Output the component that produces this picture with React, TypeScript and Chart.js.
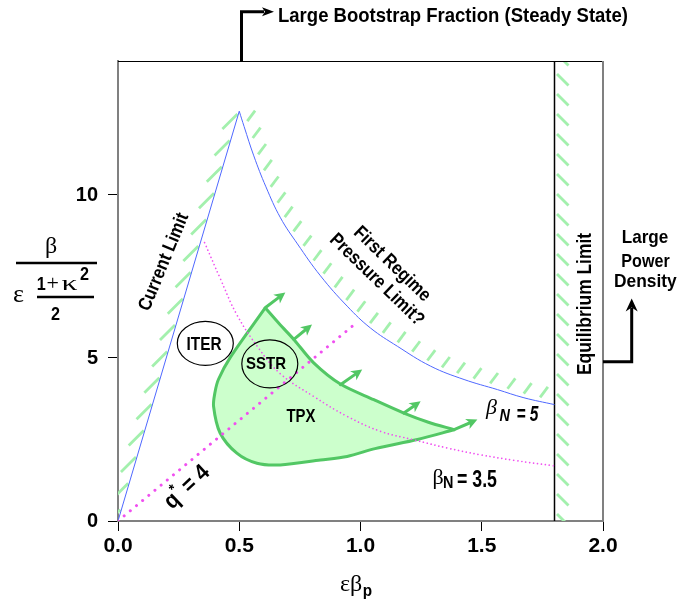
import React, { useEffect, useRef } from "react";
import { Chart, registerables } from "chart.js";
Chart.register(...registerables);

// ---------- data ----------
const X_TICKS = [0, 0.5, 1.0, 1.5, 2.0];
const Y_TICKS = [0, 5, 10];
const X_MIN = 0;
const X_MAX = 2;
const Y_MIN = 0;
const Y_MAX = 14.11;

const currentLimitX = [0, 0.5];
const currentLimitY = [0, 12.57];

const pressureLimitX = [0.5, 0.52, 0.56, 0.61, 0.67, 0.74, 0.835, 0.945, 1.041, 1.152, 1.289, 1.427, 1.565, 1.674, 1.8];
const pressureLimitY = [12.57, 12.1, 11.2, 10.25, 9.3, 8.5, 7.52, 6.59, 5.92, 5.36, 4.75, 4.34, 4.03, 3.78, 3.57];

const betaN35X = [0.357, 0.421, 0.49, 0.58, 0.669, 0.807, 0.945, 1.083, 1.22, 1.357, 1.496, 1.634, 1.8];
const betaN35Y = [8.54, 7.45, 6.33, 5.3, 4.52, 3.82, 3.21, 2.75, 2.49, 2.24, 2.03, 1.86, 1.69];

const qStarX = [0, 0.98];
const qStarY = [0, 6.06];

const equilibriumX = [1.8, 1.8];
const equilibriumY = [0, 14.11];

const tpxX = [0.607, 0.607, 0.665, 0.725, 0.807, 0.917, 1.055, 1.179, 1.28, 1.386, 1.386, 1.235, 1.06, 0.945, 0.835, 0.669, 0.573, 0.49, 0.421, 0.394, 0.4, 0.414, 0.463, 0.607];
const tpxY = [6.54, 6.54, 6.05, 5.57, 4.85, 4.2, 3.72, 3.31, 3.03, 2.8, 2.8, 2.5, 2.22, 1.98, 1.87, 1.72, 1.77, 2.08, 2.7, 3.52, 3.95, 4.34, 5.02, 6.54];

const arrowFromX = [0.607, 0.725, 0.917, 1.179, 1.386];
const arrowFromY = [6.54, 5.57, 4.18, 3.31, 2.8];
const arrowToX = [0.69, 0.8, 1.007, 1.248, 1.482];
const arrowToY = [7.01, 6.03, 4.65, 3.67, 3.11];

const ellipseNames = ["ITER", "SSTR"];
const ellipseX = [0.36, 0.626];
const ellipseY = [5.45, 4.82];

// ---------- style ----------
const SANS = "'Liberation Sans', Arial, sans-serif";
const SERIF = "'Liberation Serif', 'Times New Roman', serif";
const BLUE = "#4f68ff";
const MAGENTA = "#f050f0";
const GREEN = "#52c764";
const GREEN_FILL = "#ccffcc";
const HATCH = "#a3f0ad";

const pts = (xs: number[], ys: number[]) => xs.map((x, i) => ({ x, y: ys[i] }));

function fontAvailable(name: string) {
  const c = document.createElement("canvas").getContext("2d")!;
  const s = "abcdefghijklmnopqrstuvwxyzABCDEFGHIJ0123456789";
  c.font = "30px monospace";
  const a = c.measureText(s).width;
  c.font = `30px '${name}', monospace`;
  const b = c.measureText(s).width;
  return Math.abs(a - b) > 0.5;
}

type TOpt = {
  size: number;
  weight?: string;
  style?: string;
  family?: string;
  align?: CanvasTextAlign;
  baseline?: CanvasTextBaseline;
  rot?: number;
  width?: number;
  sx?: number;
};

function txt(ctx: CanvasRenderingContext2D, s: string, x: number, y: number, o: TOpt) {
  ctx.save();
  ctx.translate(x, y);
  if (o.rot) ctx.rotate(o.rot);
  ctx.font = `${o.style || "normal"} ${o.weight || "bold"} ${o.size}px ${o.family || SANS}`;
  const w = ctx.measureText(s).width;
  const k = o.width ? o.width / w : o.sx ?? 1;
  ctx.scale(k, 1);
  ctx.textAlign = o.align || "left";
  ctx.textBaseline = o.baseline || "alphabetic";
  ctx.fillStyle = "#000";
  ctx.fillText(s, 0, 0);
  ctx.restore();
}

type Run = { t: string; font: string; dy?: number; sx?: number; dx?: number };
function runs(ctx: CanvasRenderingContext2D, parts: Run[], x: number, y: number, rot = 0, centered = false) {
  ctx.save();
  ctx.translate(x, y);
  if (rot) ctx.rotate(rot);
  ctx.fillStyle = "#000";
  ctx.textBaseline = "alphabetic";
  let total = 0;
  for (const p of parts) {
    ctx.font = p.font;
    total += ctx.measureText(p.t).width * (p.sx ?? 1) + (p.dx ?? 0);
  }
  let cx = centered ? -total / 2 : 0;
  for (const p of parts) {
    ctx.font = p.font;
    const w = ctx.measureText(p.t).width * (p.sx ?? 1);
    cx += p.dx ?? 0;
    ctx.save();
    ctx.translate(cx, p.dy ?? 0);
    ctx.scale(p.sx ?? 1, 1);
    ctx.fillText(p.t, 0, 0);
    ctx.restore();
    cx += w;
  }
  ctx.restore();
}

function arrowHead(ctx: CanvasRenderingContext2D, tx: number, ty: number, ang: number, len: number, hw: number, notch: number) {
  const c = Math.cos(ang), s = Math.sin(ang);
  const bx = tx - c * len, by = ty - s * len;
  ctx.beginPath();
  ctx.moveTo(tx, ty);
  ctx.lineTo(bx - s * hw, by + c * hw);
  ctx.lineTo(tx - c * (len - notch), ty - s * (len - notch));
  ctx.lineTo(bx + s * hw, by - c * hw);
  ctx.closePath();
  ctx.fill();
}

function sampleCurve(points: any[]) {
  const out: { x: number; y: number }[] = [];
  for (let i = 0; i < points.length - 1; i++) {
    const a = points[i], b = points[i + 1];
    const c1x = a.cp2x ?? a.x, c1y = a.cp2y ?? a.y, c2x = b.cp1x ?? b.x, c2y = b.cp1y ?? b.y;
    for (let k = 0; k < 30; k++) {
      const t = k / 30, m = 1 - t;
      out.push({
        x: m * m * m * a.x + 3 * m * m * t * c1x + 3 * m * t * t * c2x + t * t * t * b.x,
        y: m * m * m * a.y + 3 * m * m * t * c1y + 3 * m * t * t * c2y + t * t * t * b.y,
      });
    }
  }
  const l = points[points.length - 1];
  out.push({ x: l.x, y: l.y });
  return out;
}

function hatchStroke(ctx: CanvasRenderingContext2D, x0: number, y0: number, x1: number, y1: number) {
  ctx.beginPath();
  ctx.moveTo(x0, y0);
  ctx.lineTo(x1, y1);
  ctx.stroke();
}

const decor = {
  id: "decor",
  beforeDatasetsDraw(chart: any) {
    const { ctx, chartArea: a, scales } = chart;
    const xs = scales.x, ys = scales.y;
    ctx.save();
    ctx.beginPath();
    ctx.rect(a.left, a.top, a.right - a.left, a.bottom - a.top);
    ctx.clip();
    ctx.strokeStyle = HATCH;
    ctx.lineWidth = 2.8;
    ctx.lineCap = "butt";
    // current limit hatching (left side)
    const p0x = xs.getPixelForValue(currentLimitX[0]), p0y = ys.getPixelForValue(currentLimitY[0]);
    const p1x = xs.getPixelForValue(currentLimitX[1]), p1y = ys.getPixelForValue(currentLimitY[1]);
    const L = Math.hypot(p1x - p0x, p1y - p0y);
    const ux = (p1x - p0x) / L, uy = (p1y - p0y) / L;
    for (let s = L - 3; s > 0; s -= 27.5) {
      const px = p0x + ux * s - 1, py = p0y + uy * s;
      hatchStroke(ctx, px, py, px - 15, py + 15);
    }
    // pressure limit hatching (outer side)
    const meta = chart.getDatasetMeta(3);
    const smp = sampleCurve(meta.data);
    let acc = 0, next = 8;
    for (let i = 1; i < smp.length; i++) {
      const dx = smp[i].x - smp[i - 1].x, dy = smp[i].y - smp[i - 1].y;
      const d = Math.hypot(dx, dy);
      acc += d;
      if (acc >= next && d > 0) {
        next += 17.5;
        const nx = dy / d, ny = -dx / d;
        const cx = smp[i].x + nx * 10, cy = smp[i].y + ny * 10;
        const vx = 0.6, vy = -0.8;
        hatchStroke(ctx, cx - vx * 6.5, cy - vy * 6.5, cx + vx * 6.5, cy + vy * 6.5);
      }
    }
    // equilibrium hatching (right side)
    const ex = xs.getPixelForValue(equilibriumX[0]);
    for (let yy = a.top - 7; yy < a.bottom; yy += 20) {
      hatchStroke(ctx, ex + 2.5, yy, ex + 14, yy + 11.5);
    }
    ctx.restore();
  },
  afterDatasetsDraw(chart: any) {
    const { ctx, scales } = chart;
    const xs = scales.x, ys = scales.y;
    ctx.save();
    // TPX arrows
    ctx.strokeStyle = GREEN;
    ctx.fillStyle = GREEN;
    ctx.lineWidth = 3;
    ctx.lineCap = "round";
    for (let i = 0; i < arrowFromX.length; i++) {
      const x0 = xs.getPixelForValue(arrowFromX[i]), y0 = ys.getPixelForValue(arrowFromY[i]);
      const x1 = xs.getPixelForValue(arrowToX[i]), y1 = ys.getPixelForValue(arrowToY[i]);
      const ang = Math.atan2(y1 - y0, x1 - x0);
      ctx.beginPath();
      ctx.moveTo(x0, y0);
      ctx.lineTo(x1 - Math.cos(ang) * 6, y1 - Math.sin(ang) * 6);
      ctx.stroke();
      arrowHead(ctx, x1, y1, ang, 11, 5.5, 3);
    }
    // ellipses
    ctx.strokeStyle = "#000";
    ctx.lineWidth = 1.2;
    const radii = [[28, 22], [28, 24]];
    for (let i = 0; i < ellipseNames.length; i++) {
      const cx = xs.getPixelForValue(ellipseX[i]), cy = ys.getPixelForValue(ellipseY[i]);
      ctx.beginPath();
      ctx.ellipse(cx, cy, radii[i][0], radii[i][1], 0, 0, Math.PI * 2);
      ctx.stroke();
    }
    ctx.restore();
    // inner labels
    txt(ctx, ellipseNames[0], 204, 350, { size: 18.5, align: "center", width: 35 });
    txt(ctx, ellipseNames[1], 266, 369.3, { size: 17, align: "center", width: 40 });
    txt(ctx, "TPX", 301, 421.7, { size: 18.5, align: "center", width: 29 });
    txt(ctx, "Current Limit", 164, 262, { size: 19, align: "center", baseline: "middle", rot: -1.18, width: 104 });
    const r = 0.768;
    const c = Math.cos(r), s = Math.sin(r);
    const bx = 384.4, by = 272;
    txt(ctx, "First Regime", bx + s * 11, by - c * 11, { size: 19, align: "center", baseline: "middle", rot: r, sx: 0.86 });
    txt(ctx, "Pressure Limit?", bx - s * 11, by + c * 11, { size: 19, align: "center", baseline: "middle", rot: r, sx: 0.86 });
    txt(ctx, "Equilibrium Limit", 585, 304, { size: 20, align: "center", baseline: "middle", rot: -Math.PI / 2, width: 142 });
    // q* = 4  (rotated along the q* line)
    runs(
      ctx,
      [
        { t: "q", font: `bold 23px ${SANS}`, sx: 0.9 },
        { t: "*", font: `bold 15px ${SANS}`, dy: -10, sx: 0.9 },
        { t: " = 4", font: `bold 23px ${SANS}`, sx: 0.9 },
      ],
      191.5,
      492,
      -0.75,
      true
    );
    // beta N = 5
    runs(ctx, [{ t: "β", font: `italic 22px ${SERIF}` }], 486, 413.5);
    runs(ctx, [{ t: "N", font: `italic bold 16px ${SANS}`, sx: 0.9 }], 499.5, 420.5);
    txt(ctx, "= 5", 516.5, 420.5, { size: 22, style: "italic", width: 22 });
    // beta N = 3.5
    runs(ctx, [{ t: "β", font: `22px ${SERIF}` }], 432.5, 484);
    runs(ctx, [{ t: "N", font: `bold 16px ${SANS}`, sx: 0.9 }], 443, 488.3);
    txt(ctx, "= 3.5", 457, 486.5, { size: 24, width: 40 });
  },
  afterDraw(chart: any) {
    const { ctx, chartArea: a } = chart;
    ctx.save();
    // frame top (black) and right (gray)
    ctx.strokeStyle = "#000";
    ctx.lineWidth = 1;
    ctx.beginPath();
    ctx.moveTo(a.left, a.top + 0.5);
    ctx.lineTo(a.right, a.top + 0.5);
    ctx.stroke();
    ctx.strokeStyle = "#808080";
    ctx.lineWidth = 2;
    ctx.beginPath();
    ctx.moveTo(a.right, a.top);
    ctx.lineTo(a.right, a.bottom);
    ctx.stroke();
    // top annotation arrow
    ctx.strokeStyle = "#000";
    ctx.fillStyle = "#000";
    ctx.lineWidth = 3;
    ctx.lineJoin = "miter";
    ctx.lineCap = "butt";
    ctx.beginPath();
    ctx.moveTo(241.5, a.top);
    ctx.lineTo(241.5, 11.7);
    ctx.lineTo(264, 11.7);
    ctx.stroke();
    arrowHead(ctx, 274, 11.7, 0, 12, 4.5, 3);
    // right annotation arrow
    ctx.beginPath();
    ctx.moveTo(a.right, 361.7);
    ctx.lineTo(631.7, 361.7);
    ctx.lineTo(631.7, 308);
    ctx.stroke();
    arrowHead(ctx, 631.7, 298.5, -Math.PI / 2, 13, 6, 4);
    ctx.restore();

    txt(ctx, "Large Bootstrap Fraction (Steady State)", 278, 21.7, { size: 20.5, width: 350 });
    txt(ctx, "Large", 645, 243.3, { size: 18.5, align: "center", width: 46.6 });
    txt(ctx, "Power", 645.5, 266.7, { size: 18.5, align: "center", width: 48.3 });
    txt(ctx, "Density", 645.3, 286.7, { size: 18.5, align: "center", width: 62.7 });

    // y-axis title: beta / (epsilon (1+kappa^2)/2)
    txt(ctx, "β", 51, 253, { size: 24, weight: "normal", family: SERIF, align: "center" });
    ctx.save();
    ctx.strokeStyle = "#000";
    ctx.lineWidth = 2.5;
    ctx.beginPath();
    ctx.moveTo(16, 263);
    ctx.lineTo(97, 263);
    ctx.stroke();
    ctx.beginPath();
    ctx.moveTo(37, 297);
    ctx.lineTo(94, 297);
    ctx.stroke();
    ctx.restore();
    txt(ctx, "ε", 13, 301.5, { size: 26, weight: "normal", family: SERIF });
    txt(ctx, "1", 36.7, 290, { size: 18, sx: 0.9 });
    txt(ctx, "+", 46.5, 290, { size: 22, weight: "normal", family: SERIF });
    txt(ctx, "κ", 61.5, 290, { size: 22, weight: "normal", family: SERIF, width: 16 });
    txt(ctx, "2", 80, 280, { size: 18, sx: 0.9 });
    txt(ctx, "2", 55.5, 320, { size: 18, align: "center", sx: 0.9 });

    // x-axis title
    ctx.save();
    ctx.font = `24px ${SERIF}`;
    const wEB = ctx.measureText("εβ").width;
    ctx.restore();
    txt(ctx, "εβ", 340, 591, { size: 24, weight: "normal", family: SERIF });
    txt(ctx, "p", 340 + wEB + 0.5, 596, { size: 17, sx: 0.9 });
  },
};

export default function App() {
  const ref = useRef<HTMLCanvasElement>(null);
  useEffect(() => {
    const canvas = ref.current;
    if (!canvas) return;
    const narrow = fontAvailable("Liberation Sans Narrow");
    const tickFamily = narrow ? "'Liberation Sans Narrow', 'Liberation Sans', sans-serif" : SANS;
    const xTickSize = narrow ? 23 : 21;
    const yTickSize = narrow ? 22 : 20;
    const chart = new Chart(canvas, {
      type: "line",
      data: {
        datasets: [
          {
            label: "q* = 4",
            data: pts(qStarX, qStarY),
            borderColor: MAGENTA,
            borderWidth: 3,
            borderDash: [0.01, 8],
            borderCapStyle: "round",
            pointRadius: 0,
            fill: false,
            order: 1,
          },
          {
            label: "betaN = 3.5",
            data: pts(betaN35X, betaN35Y),
            borderColor: MAGENTA,
            borderWidth: 1.7,
            borderDash: [0.01, 4],
            borderCapStyle: "round",
            pointRadius: 0,
            tension: 0.4,
            fill: false,
            order: 1,
          },
          {
            label: "Current Limit",
            data: pts(currentLimitX, currentLimitY),
            borderColor: BLUE,
            borderWidth: 1,
            pointRadius: 0,
            fill: false,
            order: 2,
          },
          {
            label: "Pressure Limit",
            data: pts(pressureLimitX, pressureLimitY),
            borderColor: BLUE,
            borderWidth: 1,
            pointRadius: 0,
            tension: 0.4,
            fill: false,
            order: 2,
          },
          {
            label: "Equilibrium Limit",
            data: pts(equilibriumX, equilibriumY),
            borderColor: "#000",
            borderWidth: 1.5,
            pointRadius: 0,
            fill: false,
            order: 2,
          },
          {
            label: "TPX",
            data: pts(tpxX, tpxY),
            borderColor: GREEN,
            backgroundColor: GREEN_FILL,
            borderWidth: 3,
            borderJoinStyle: "round",
            pointRadius: 0,
            tension: 0.3,
            fill: "shape",
            order: 5,
          },
        ] as any,
      },
      options: {
        responsive: false,
        animation: false,
        devicePixelRatio: 1,
        layout: { padding: { left: 0, top: 61, right: 80, bottom: 0 } },
        plugins: { legend: { display: false }, tooltip: { enabled: false } },
        scales: {
          x: {
            type: "linear",
            min: X_MIN,
            max: X_MAX,
            afterBuildTicks: (s: any) => {
              s.ticks = X_TICKS.map((v) => ({ value: v }));
            },
            afterFit: (s: any) => {
              s.height = 82;
            },
            ticks: {
              color: "#000",
              padding: 3,
              maxRotation: 0,
              autoSkip: false,
              font: { family: tickFamily, size: xTickSize, weight: "bold" },
              callback: (v: any) => Number(v).toFixed(1),
            },
            grid: { drawOnChartArea: false, drawTicks: true, tickLength: 10, color: "#000", lineWidth: 1 },
            border: { color: "#808080", width: 2 },
          },
          y: {
            type: "linear",
            min: Y_MIN,
            max: Y_MAX,
            afterBuildTicks: (s: any) => {
              s.ticks = Y_TICKS.map((v) => ({ value: v }));
            },
            afterFit: (s: any) => {
              s.width = 118;
            },
            ticks: {
              color: "#000",
              padding: 10,
              autoSkip: false,
              font: { family: tickFamily, size: yTickSize, weight: "bold" },
              callback: (v: any) => String(v),
            },
            grid: { drawOnChartArea: false, drawTicks: true, tickLength: 10, color: "#000", lineWidth: 1 },
            border: { color: "#808080", width: 2 },
          },
        },
      } as any,
      plugins: [decor],
    });
    return () => chart.destroy();
  }, []);
  return (
    <div style={{ position: "absolute", left: 0, top: 0, width: 683, height: 603, background: "#fff" }}>
      <canvas ref={ref} width={683} height={603} style={{ display: "block", width: 683, height: 603 }} />
    </div>
  );
}
